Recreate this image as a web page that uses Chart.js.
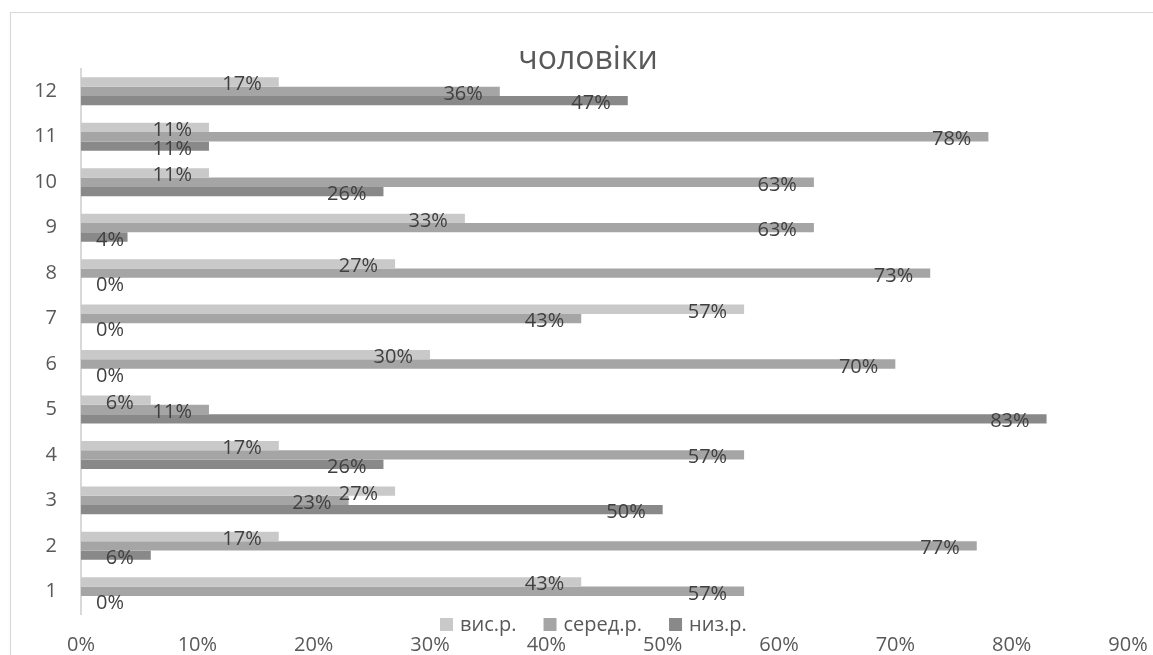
<!DOCTYPE html>
<html>
<head>
<meta charset="utf-8">
<script src="https://cdn.jsdelivr.net/npm/chart.js@4.4.1/dist/chart.umd.min.js"></script>
<style>
  html, body { margin: 0; padding: 0; background: #ffffff; }
  #wrap { width: 1153px; height: 655px; position: relative; }
</style>
</head>
<body>
<div id="wrap"><canvas id="c"></canvas></div>
<script>
// Categories (groups 1..12, drawn bottom to top)
const categories = ['1', '2', '3', '4', '5', '6', '7', '8', '9', '10', '11', '12'];
// Share of each level, percent
const highLevel = [43, 17, 27, 17, 6, 30, 57, 27, 33, 11, 11, 17];   // вис.р.
const midLevel  = [57, 77, 23, 57, 11, 70, 43, 73, 63, 63, 78, 36];  // серед.р.
const lowLevel  = [0, 6, 50, 26, 83, 0, 0, 0, 4, 26, 11, 47];        // низ.р.
const seriesNames = ['вис.р.', 'серед.р.', 'низ.р.'];
const xTicks = [0, 10, 20, 30, 40, 50, 60, 70, 80, 90];
const chartTitle = 'чоловіки';

const colors = ['#C9C9C9', '#A5A5A5', '#898989'];
const FONT = '"Open Sans", "Noto Sans", sans-serif';

// Frame around the chart
const framePlugin = {
  id: 'frame',
  beforeDraw(chart) {
    const ctx = chart.ctx;
    ctx.save();
    ctx.strokeStyle = '#D9D9D9';
    ctx.lineWidth = 1.2;
    ctx.beginPath();
    ctx.moveTo(10.5, 655);
    ctx.lineTo(10.5, 12.5);
    ctx.lineTo(1153, 12.5);
    ctx.stroke();
    ctx.restore();
  }
};

// Value labels at the inner end of each bar
const valueLabels = {
  id: 'valueLabels',
  afterDatasetsDraw(chart) {
    const ctx = chart.ctx;
    const xScale = chart.scales.x;
    const base = xScale.getPixelForValue(0);
    ctx.save();
    ctx.font = '20px ' + FONT;
    ctx.fillStyle = '#404040';
    ctx.textAlign = 'right';
    ctx.textBaseline = 'alphabetic';
    chart.data.datasets.forEach((ds, di) => {
      const meta = chart.getDatasetMeta(di);
      meta.data.forEach((bar, i) => {
        const v = ds.data[i];
        const txt = v + '%';
        const w = ctx.measureText(txt).width;
        const right = Math.max(bar.x - 17, base + 15 + w);
        ctx.fillText(txt, right, bar.y + 8.5);
      });
    });
    ctx.restore();
  }
};

// Title and legend overlaid on the plot
const overlay = {
  id: 'overlay',
  afterDraw(chart) {
    const ctx = chart.ctx;
    ctx.save();
    ctx.fillStyle = '#595959';
    ctx.font = '32px ' + FONT;
    ctx.textAlign = 'center';
    ctx.textBaseline = 'alphabetic';
    ctx.fillText(chartTitle, 588, 69);

    ctx.font = '20px ' + FONT;
    const box = 13, gap = 7, itemGap = 27;
    let x = 440;
    ctx.textAlign = 'left';
    seriesNames.forEach((n, k) => {
      const w = ctx.measureText(n).width;
      ctx.fillStyle = colors[k];
      ctx.fillRect(x, 618, box, box);
      ctx.fillStyle = '#595959';
      ctx.fillText(n, x + box + gap, 631);
      x += box + gap + w + itemGap;
    });
    ctx.restore();
  }
};

const seriesData = [highLevel, midLevel, lowLevel];

new Chart(document.getElementById('c'), {
  type: 'bar',
  data: {
    labels: categories,
    datasets: seriesNames.map((name, k) => ({
      label: name,
      data: seriesData[k],
      backgroundColor: colors[k],
      borderWidth: 0,
      barPercentage: 1,
      categoryPercentage: 0.616
    }))
  },
  options: {
    indexAxis: 'y',
    responsive: true,
    maintainAspectRatio: false,
    animation: false,
    layout: { padding: { left: 0, right: 25, top: 68.6, bottom: 0 } },
    plugins: {
      legend: { display: false },
      title: { display: false },
      tooltip: { enabled: false }
    },
    scales: {
      x: {
        min: 0,
        max: 90,
        afterBuildTicks(scale) { scale.ticks = xTicks.map(v => ({ value: v })); },
        afterFit(scale) {
          scale.height = 41;
          scale.paddingLeft = 0;
          scale.paddingRight = 0;
        },
        grid: { display: false, drawTicks: false },
        border: { display: false },
        ticks: {
          padding: 19,
          color: '#595959',
          font: { family: FONT, size: 20 },
          callback: v => v + '%'
        }
      },
      y: {
        reverse: true,
        afterFit(scale) {
          scale.width = 81;
          scale.paddingTop = 0;
          scale.paddingBottom = 0;
        },
        grid: { display: false, drawTicks: false },
        border: { display: true, color: '#D9D9D9', width: 2 },
        ticks: {
          padding: 24,
          color: '#595959',
          font: { family: FONT, size: 20 }
        }
      }
    }
  },
  plugins: [framePlugin, valueLabels, overlay]
});
</script>
</body>
</html>
